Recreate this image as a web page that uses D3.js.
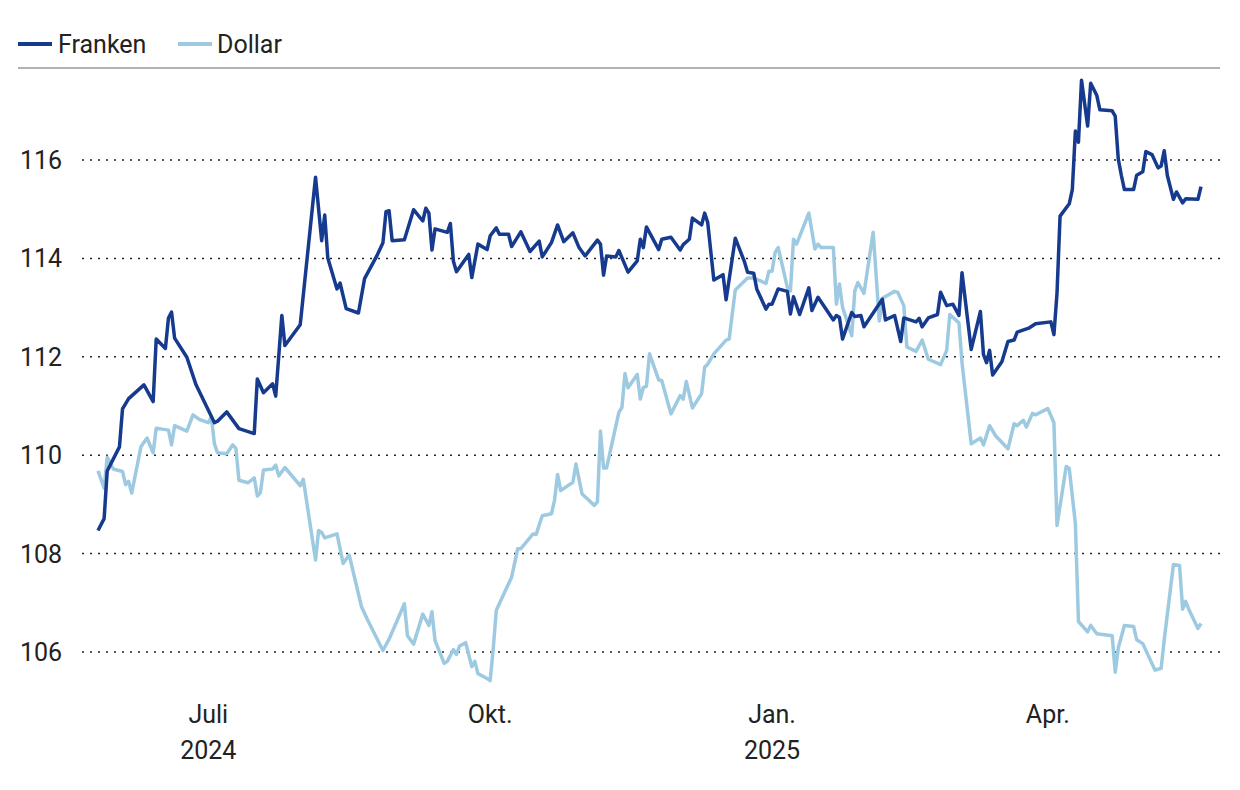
<!DOCTYPE html>
<html>
<head>
<meta charset="utf-8">
<script src="https://cdn.jsdelivr.net/npm/d3@7"></script>
<style>
  body { margin: 0; background: #fff; }
  text { font-family: Roboto, "Noto Sans", sans-serif; fill: #222; }
</style>
</head>
<body>
<svg id="chart" width="1240" height="790"></svg>
<script>
// days counted from 26 May 2024
const startDate = new Date(2024, 4, 26);

const frankenDays = [0,2,3,7,8,10,15,18,19,22,23,24,25,29,32,38,39,42,46,51,52,54,57,58,60,61,66,71,73,74,75,78,79,81,85,87,91,93,94,95,96,100,103,106,107,108,109,110,114,115,116,117,121,122,124,127,128,
  130,131,134,135,138,141,144,145,148,150,152,155,157,159,163,164,165,166,169,170,173,176,177,178,179,183,184,187,190,191,193,194,197,198,199,201,204,205,208,211,212,214,215,218,219,220,222,225,226,227,229,232,233,235,240,241,242,243,246,247,
  249,250,256,257,260,262,263,267,268,269,271,274,275,277,279,281,282,285,288,289,290,291,292,295,297,299,300,304,306,311,312,313,314,317,318,319,320,321,323,324,326,327,331,332,333,334,335,338,339,341,342,344,346,347,348,349,351,352,354,355,359,360];
const frankenVals = [108.47,108.71,109.68,110.17,110.94,111.15,111.43,111.09,112.36,112.17,112.79,112.91,112.38,111.99,111.43,110.66,110.69,110.88,110.54,110.44,111.55,111.27,111.45,111.20,112.84,112.23,112.65,115.65,114.36,114.88,114.01,113.38,113.50,112.98,112.89,113.59,114.05,114.32,114.95,114.97,114.36,114.38,114.99,114.76,115.02,114.92,114.17,114.60,114.53,114.71,113.94,113.73,114.08,113.61,114.29,114.18,114.46,
  114.62,114.49,114.49,114.24,114.54,114.14,114.35,114.03,114.32,114.68,114.34,114.52,114.22,114.05,114.37,114.29,113.66,114.05,114.03,114.16,113.72,113.95,114.39,114.22,114.64,114.18,114.39,114.43,114.17,114.28,114.39,114.82,114.68,114.92,114.73,113.56,113.67,113.16,114.41,113.93,113.72,113.70,113.38,112.97,113.07,113.07,113.38,113.33,112.87,113.22,112.86,113.40,112.94,113.21,112.75,112.84,112.80,112.36,112.90,112.82,
  112.84,112.61,113.17,112.75,112.84,112.31,112.79,112.71,112.78,112.61,112.79,112.86,113.31,113.04,113.07,112.84,113.71,112.15,112.92,112.05,111.88,112.13,111.63,111.90,112.31,112.34,112.50,112.59,112.67,112.71,112.45,113.29,114.86,115.11,115.40,116.59,116.36,117.62,116.69,117.56,117.31,117.02,117.00,116.89,116.02,115.69,115.40,115.40,115.69,115.76,116.17,116.11,115.84,115.88,116.19,115.69,115.20,115.35,115.13,115.21,115.20,115.46];

const dollarDays = [0,2,3,5,8,9,10,11,14,16,18,19,23,24,25,29,31,33,36,37,38,39,42,44,45,46,49,51,52,53,54,57,58,59,61,66,67,71,72,73,74,78,80,82,86,88,93,95,100,101,103,106,108,109,110,113,114,116,117,118,120,122,123,124,127,128,
  129,130,135,137,138,142,143,145,148,149,150,151,155,156,158,162,163,164,165,166,170,171,172,173,176,177,178,179,180,183,184,187,190,191,192,194,197,198,199,201,205,206,208,209,212,214,216,218,219,220,221,222,225,226,227,228,232,234,235,236,240,241,242,243,246,247,248,250,
  253,255,256,260,261,263,264,267,269,271,275,277,278,281,282,285,288,289,291,293,297,299,300,302,303,305,306,310,312,313,316,317,319,320,323,324,326,331,332,333,335,338,339,341,345,347,348,351,353,354,355,356,359,360];
const dollarVals = [109.68,109.33,109.96,109.72,109.67,109.40,109.47,109.23,110.17,110.35,110.05,110.55,110.51,110.21,110.60,110.49,110.82,110.73,110.66,110.78,110.23,110.05,110.03,110.21,110.14,109.49,109.44,109.54,109.17,109.24,109.70,109.72,109.80,109.58,109.75,109.38,109.51,107.87,108.47,108.43,108.32,108.40,107.80,107.97,106.92,106.65,106.03,106.26,106.98,106.33,106.16,106.77,106.54,106.82,106.23,105.77,105.81,106.05,105.95,106.12,106.19,105.70,105.81,105.56,105.46,105.42,
  106.07,106.85,107.52,108.10,108.10,108.40,108.39,108.77,108.81,109.08,109.61,109.28,109.45,109.82,109.21,108.98,109.05,110.49,109.74,109.74,110.87,110.97,111.66,111.37,111.64,111.14,111.38,111.40,112.06,111.53,111.52,110.84,111.21,111.14,111.50,110.96,111.25,111.79,111.85,112.06,112.34,112.36,113.36,113.42,113.60,113.60,113.55,113.49,113.74,113.74,114.12,114.22,113.41,113.34,114.39,114.29,114.92,114.19,114.29,114.22,114.22,113.07,113.48,113.01,112.43,113.34,113.51,113.29,
  114.53,112.73,113.19,113.33,113.31,113.04,112.20,112.11,112.34,111.95,111.84,112.13,112.86,112.69,111.88,110.23,110.35,110.21,110.60,110.39,110.13,110.64,110.60,110.71,110.57,110.85,110.82,110.95,110.66,108.57,109.77,109.73,108.61,106.62,106.41,106.54,106.37,106.33,105.59,106.08,106.54,106.52,106.25,106.17,105.63,105.67,106.25,107.78,107.76,106.87,107.03,106.87,106.48,106.58];

const yTicks = [106, 108, 110, 112, 114, 116];
const xTicks = [new Date(2024, 6, 1), new Date(2024, 9, 1), new Date(2025, 0, 1), new Date(2025, 3, 1)];
const xTickLabels = ["Juli", "Okt.", "Jan.", "Apr."];
const xTickYears = ["2024", "", "2025", ""];

const seriesNames = ["Franken", "Dollar"];
const seriesColors = ["#163a8e", "#9ecae1"];

const addDays = d => new Date(startDate.getFullYear(), startDate.getMonth(), startDate.getDate() + d);
const franken = frankenDays.map((d, i) => ({ date: addDays(d), value: frankenVals[i] }));
const dollar = dollarDays.map((d, i) => ({ date: addDays(d), value: dollarVals[i] }));

const svg = d3.select("#chart");

const x = d3.scaleTime().domain([addDays(0), addDays(360)]).range([98, 1201]);
const y = d3.scaleLinear().domain([106, 116]).range([652, 160]);

// legend + top rule
const legend = svg.append("g");
[[18, 58], [178, 217]].forEach(([lx, tx], i) => {
  legend.append("line").attr("x1", lx).attr("x2", lx + 34).attr("y1", 44).attr("y2", 44)
    .attr("stroke", seriesColors[i]).attr("stroke-width", 4);
  legend.append("text").attr("x", tx).attr("y", 53).attr("font-size", 25).text(seriesNames[i]);
});
svg.append("line").attr("x1", 18).attr("x2", 1220).attr("y1", 68).attr("y2", 68)
  .attr("stroke", "#999").attr("stroke-width", 1.5);

// grid
svg.append("g").selectAll("line").data(yTicks).enter().append("line")
  .attr("x1", 82).attr("x2", 1220)
  .attr("y1", d => y(d)).attr("y2", d => y(d))
  .attr("stroke", "#222").attr("stroke-width", 1.5).attr("stroke-dasharray", "2,6");

svg.append("g").selectAll("text").data(yTicks).enter().append("text")
  .attr("x", 20).attr("y", d => y(d) + 9).attr("font-size", 25).text(d => d);

// x labels
const xl = svg.append("g");
xTicks.forEach((t, i) => {
  xl.append("text").attr("x", x(t)).attr("y", 723).attr("text-anchor", "middle")
    .attr("font-size", 25).text(xTickLabels[i]);
  if (xTickYears[i]) xl.append("text").attr("x", x(t)).attr("y", 759).attr("text-anchor", "middle")
    .attr("font-size", 25).text(xTickYears[i]);
});

const line = d3.line().x(d => x(d.date)).y(d => y(d.value));

svg.append("path").datum(dollar).attr("d", line)
  .attr("fill", "none").attr("stroke", seriesColors[1]).attr("stroke-width", 3.5).attr("stroke-linejoin", "round");
svg.append("path").datum(franken).attr("d", line)
  .attr("fill", "none").attr("stroke", seriesColors[0]).attr("stroke-width", 3.5).attr("stroke-linejoin", "round");
</script>
</body>
</html>
